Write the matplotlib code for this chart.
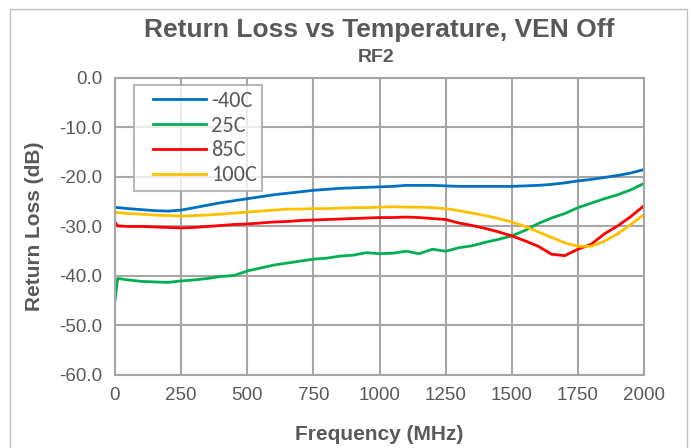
import matplotlib
matplotlib.use("Agg")
import matplotlib.pyplot as plt
from matplotlib.patches import Rectangle
from matplotlib.legend_handler import HandlerLine2D

# Frequency sweep (MHz) and return loss per temperature (dB)
freq_mhz = [0, 10, 50, 100, 150, 200, 250, 300, 350, 400, 450, 500, 550, 600,
            650, 700, 750, 800, 850, 900, 950, 1000, 1050, 1100, 1150, 1200,
            1250, 1300, 1350, 1400, 1450, 1500, 1550, 1600, 1650, 1700, 1750,
            1800, 1850, 1900, 1950, 2000]

rl_m40c = [-26.1, -26.2, -26.4, -26.6, -26.8, -26.9, -26.7, -26.2, -25.7, -25.2,
           -24.8, -24.4, -24.0, -23.6, -23.3, -23.0, -22.7, -22.5, -22.3, -22.2,
           -22.1, -22.0, -21.9, -21.7, -21.7, -21.7, -21.8, -21.9, -21.9, -21.9,
           -21.9, -21.9, -21.8, -21.7, -21.5, -21.2, -20.8, -20.5, -20.1, -19.7,
           -19.2, -18.5]

rl_25c = [-45.0, -40.5, -40.8, -41.1, -41.2, -41.3, -41.0, -40.8, -40.5, -40.1,
          -39.9, -39.0, -38.4, -37.8, -37.4, -37.0, -36.6, -36.4, -36.0, -35.8,
          -35.3, -35.5, -35.4, -35.0, -35.5, -34.6, -35.0, -34.3, -33.9, -33.2,
          -32.6, -31.9, -30.8, -29.4, -28.3, -27.4, -26.2, -25.3, -24.4, -23.6,
          -22.6, -21.3]

rl_85c = [-29.1, -29.9, -30.0, -30.0, -30.1, -30.2, -30.3, -30.2, -30.0, -29.8,
          -29.6, -29.5, -29.3, -29.1, -29.0, -28.8, -28.7, -28.6, -28.5, -28.4,
          -28.3, -28.2, -28.2, -28.1, -28.2, -28.4, -28.6, -29.3, -29.8, -30.4,
          -31.1, -31.9, -32.9, -34.0, -35.6, -35.9, -34.6, -33.6, -31.5, -29.9,
          -28.0, -25.8]

rl_100c = [-27.1, -27.2, -27.4, -27.5, -27.7, -27.8, -27.9, -27.8, -27.7, -27.5,
           -27.3, -27.1, -26.9, -26.7, -26.5, -26.5, -26.4, -26.4, -26.3, -26.2,
           -26.2, -26.1, -26.0, -26.1, -26.1, -26.2, -26.4, -26.8, -27.3, -27.8,
           -28.4, -29.1, -30.0, -31.1, -32.2, -33.3, -34.0, -34.0, -33.0, -31.5,
           -29.6, -27.6]

series_labels = ["-40C", "25C", "85C", "100C"]
series_colors = ["#0070C0", "#00B050", "#FF0000", "#FFC000"]

x_ticks = [0, 250, 500, 750, 1000, 1250, 1500, 1750, 2000]
y_ticks = [0, -10, -20, -30, -40, -50, -60]

text_gray = "#595959"
grid_gray = "#A6A6A6"
plt.rcParams["font.family"] = ["Liberation Sans", "DejaVu Sans"]

fig = plt.figure(figsize=(6.94, 4.48), dpi=100)
ax = fig.add_axes([0.1657, 0.163, 0.7623, 0.663])

# Chart frame
fig.patches.append(Rectangle((10 / 694, -0.01), 677 / 694, 1 - 9 / 448 + 0.01,
                             transform=fig.transFigure, fill=False,
                             edgecolor="#BFBFBF", linewidth=1.0))

for vals, lab, col in zip([rl_m40c, rl_25c, rl_85c, rl_100c], series_labels, series_colors):
    ax.plot(freq_mhz, vals, color=col, linewidth=2.0, label=lab)

ax.set_xlim(0, 2000)
ax.set_ylim(-60, 0)
ax.set_xticks(x_ticks)
ax.set_yticks(y_ticks)
ax.set_xticklabels([str(v) for v in x_ticks])
ax.set_yticklabels([f"{v:.1f}" for v in y_ticks])
ax.grid(True, color=grid_gray, linewidth=1.5)
ax.set_axisbelow(True)
for s in ax.spines.values():
    s.set_color(grid_gray)
    s.set_linewidth(1.5)
ax.tick_params(length=0, labelsize=13.5, colors=text_gray, pad=9)

ax.set_xlabel("Frequency (MHz)", fontsize=15, fontweight="bold", color=text_gray,
              labelpad=15)
ax.set_ylabel("Return Loss (dB)", fontsize=15, fontweight="bold", color=text_gray,
              labelpad=11)

fig.text(0.547, 1 - 30 / 448, "Return Loss vs Temperature, VEN Off", ha="center", va="center",
         fontsize=19, fontweight="bold", color=text_gray)
fig.text(0.542, 1 - 57 / 448, "RF2", ha="center", va="center",
         fontsize=14, fontweight="bold", color=text_gray)

line_handler = HandlerLine2D(xpad=0.6)
leg = ax.legend(loc="upper left", bbox_to_anchor=(0.036, 0.976), borderaxespad=0,
                frameon=True, fancybox=False, handlelength=3.0,
                handletextpad=0.2, labelspacing=0.22, borderpad=0.25,
                handler_map={plt.Line2D: line_handler},
                prop={"family": ["Carlito", "Liberation Sans", "DejaVu Sans"], "size": 16})
leg.get_frame().set_edgecolor(grid_gray)
leg.get_frame().set_linewidth(1.5)
for t in leg.get_texts():
    t.set_color(text_gray)

fig.savefig("out.png", dpi=100)
